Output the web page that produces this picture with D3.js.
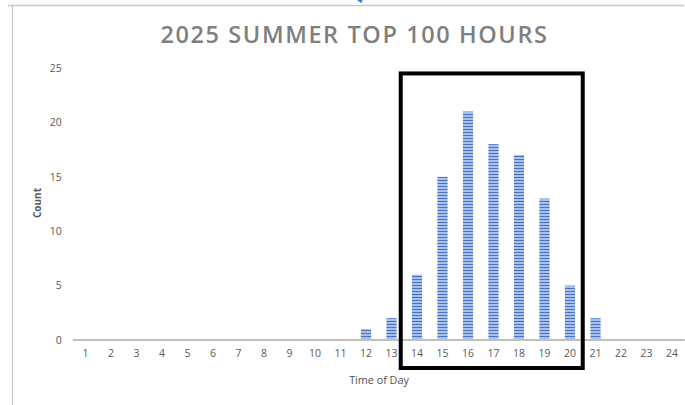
<!DOCTYPE html>
<html>
<head>
<meta charset="utf-8">
<script src="https://cdn.jsdelivr.net/npm/d3@7"></script>
<style>
  html, body { margin: 0; padding: 0; background: #ffffff; }
  svg { display: block; }
</style>
</head>
<body>
<div id="chart"></div>
<script>
// Hours of the day (x categories)
const hours = d3.range(1, 25).map(String);
// Number of top-100 hours falling in each hour of the day
const counts = [0, 0, 0, 0, 0, 0, 0, 0, 0, 0, 0, 1, 2, 6, 15, 21, 18, 17, 13, 5, 2, 0, 0, 0];
// Y-axis tick values
const yTicks = [0, 5, 10, 15, 20, 25];
// Highlighted range of hours
const highlight = ["14", "20"];

const chartTitle = "2025 SUMMER TOP 100 HOURS";
const xTitle = "Time of Day";
const yTitle = "Count";

const W = 685, H = 405;
const margin = { left: 72.75, right: 0.25, top: 68, bottom: 65 };

const svg = d3.select("#chart").append("svg")
  .attr("width", W).attr("height", H);

// Striped fill for the bars
const defs = svg.append("defs");
const pat = defs.append("pattern")
  .attr("id", "stripes")
  .attr("patternUnits", "userSpaceOnUse")
  .attr("width", 6).attr("height", 3);
pat.append("rect").attr("width", 6).attr("height", 3).attr("fill", "#abc0e8");
pat.append("rect").attr("y", 0).attr("width", 6).attr("height", 1).attr("fill", "#4472c4");

// Chart frame
svg.append("line").attr("x1", 8).attr("x2", 684).attr("y1", 5.5).attr("y2", 5.5)
  .attr("stroke", "#c8c8c8").attr("stroke-width", 1.5);
svg.append("line").attr("x1", 12.5).attr("x2", 12.5).attr("y1", 5).attr("y2", H)
  .attr("stroke", "#c8c8c8").attr("stroke-width", 1.2);
svg.append("path").attr("d", "M357,0 L363,0 L361,3 Z").attr("fill", "#2f7fd6");

const x = d3.scaleBand()
  .domain(hours)
  .range([margin.left, W - margin.right])
  .paddingInner(0.6)
  .paddingOuter(0.3);

const y = d3.scaleLinear()
  .domain([0, 25])
  .range([H - margin.bottom, margin.top]);

const font = "'Open Sans', 'Noto Sans', sans-serif";

// Title
svg.append("text")
  .attr("x", 354.5).attr("y", 42.5)
  .attr("text-anchor", "middle")
  .attr("font-family", font)
  .attr("font-weight", 600)
  .attr("font-size", 23.5)
  .attr("letter-spacing", 1.6)
  .attr("fill", "#7f7f7f")
  .text(chartTitle);

// Y axis labels
const yAxis = d3.axisLeft(y).tickValues(yTicks).tickSize(0).tickPadding(0);
const gy = svg.append("g").attr("transform", `translate(${margin.left - 11},0)`).call(yAxis);
gy.select(".domain").remove();
gy.selectAll("text")
  .attr("font-family", font).attr("font-size", 10.5).attr("fill", "#595959")
  .attr("text-anchor", "end");

// X axis
const xAxis = d3.axisBottom(x).tickSize(0).tickPadding(10);
const gx = svg.append("g").attr("transform", `translate(0,${y(0)})`).call(xAxis);
gx.select(".domain")
  .attr("d", `M${margin.left},0H${W - margin.right}`)
  .attr("stroke", "#c0c0c0").attr("stroke-width", 2);
gx.selectAll("text")
  .attr("font-family", font).attr("font-size", 10.5).attr("fill", "#595959");

// Bars
const data = hours.map((h, i) => ({ hour: h, count: counts[i] }));
svg.append("g").selectAll("rect")
  .data(data.filter(d => d.count > 0))
  .join("rect")
  .attr("x", d => x(d.hour))
  .attr("width", x.bandwidth())
  .attr("y", d => y(d.count))
  .attr("height", d => y(0) - y(d.count) - 1)
  .attr("fill", "url(#stripes)");

// Axis titles
svg.append("text")
  .attr("x", 379).attr("y", 384)
  .attr("text-anchor", "middle")
  .attr("font-family", font).attr("font-size", 10.8)
  .attr("fill", "#505050")
  .text(xTitle);

svg.append("text")
  .attr("transform", `translate(41,${(y(0) + y(25)) / 2 - 1}) rotate(-90)`)
  .attr("text-anchor", "middle")
  .attr("font-family", font).attr("font-size", 10).attr("font-weight", 700)
  .attr("fill", "#595959")
  .text(yTitle);

// Highlight box around the peak hours
const gap = (x.step() - x.bandwidth()) / 2;
const bx0 = x(highlight[0]) - gap - 3.5;
const bx1 = x(highlight[1]) + x.bandwidth() + gap;
svg.append("rect")
  .attr("x", bx0).attr("y", y(24.5))
  .attr("width", bx1 - bx0)
  .attr("height", y(0) + 28 - y(24.5))
  .attr("fill", "none")
  .attr("stroke", "#000000")
  .attr("stroke-width", 4);
</script>
</body>
</html>
